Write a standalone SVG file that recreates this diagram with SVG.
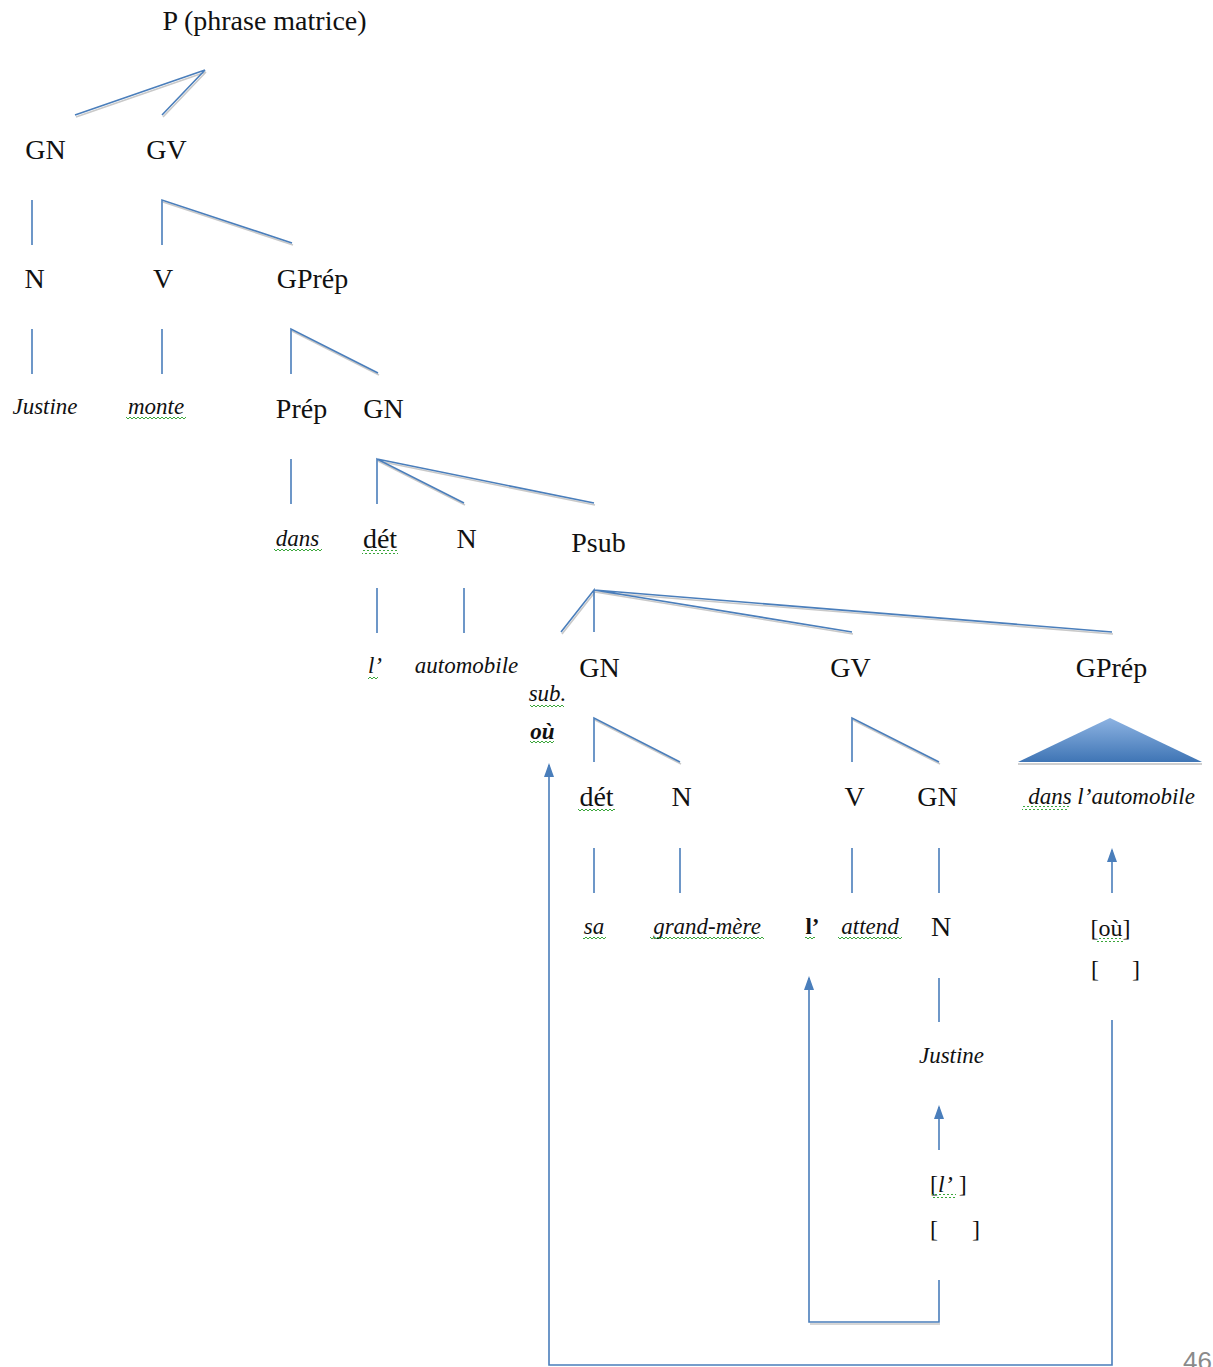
<svg xmlns="http://www.w3.org/2000/svg" width="1213" height="1367" viewBox="0 0 1213 1367">
<defs>
<style>
.t{font-family:"Liberation Serif","Times New Roman",serif;font-size:28px;fill:#111;text-anchor:middle}
.i{font-family:"Liberation Serif","Times New Roman",serif;font-size:23px;font-style:italic;fill:#111;text-anchor:middle}
.b{font-weight:bold}
.r{font-style:normal}
.l{stroke:#4a7ebb;stroke-width:1.6;fill:none}
.s{stroke:#c9c9c9;stroke-width:1.6;fill:none}
.sq{fill:url(#squig)}
.pg{font-family:"Liberation Sans",Arial,sans-serif;font-size:26px;fill:#8a8a8a}
</style>
<pattern id="squig" width="4" height="4" patternUnits="userSpaceOnUse">
<path d="M0,3 L2,1 L4,3" stroke="#3aa63a" stroke-width="1" fill="none"/>
</pattern>
<marker id="ah" markerWidth="14" markerHeight="10" refX="12" refY="5" orient="auto" markerUnits="userSpaceOnUse" viewBox="0 0 14 10">
<path d="M0,0 L14,5 L0,10 Z" fill="#4a7ebb"/>
</marker>
<linearGradient id="tri" x1="0" y1="0" x2="0" y2="1">
<stop offset="0" stop-color="#8db3e2"/>
<stop offset="1" stop-color="#3f75b5"/>
</linearGradient>
</defs>
<rect width="1213" height="1367" fill="#fff"/>

<g id="connectors">
<g transform="translate(1,2)">
<path class="s" d="M75,115 L205,70 M162,115 L205,70"/>
<path class="s" d="M162,200 L292,243"/>
<path class="s" d="M291,329 L378,373"/>
<path class="s" d="M377,459 L464,503 M377,459 L594,503"/>
<path class="s" d="M594,590 L561,632 M594,590 L852,632 M594,590 L1112,632"/>
<path class="s" d="M594,718 L680,762 M852,718 L939,762"/>
<path class="s" d="M809,1322 L939,1322"/>
</g>
<path class="l" d="M75,115 L205,70 M162,115 L205,70"/>
<path class="l" d="M32,200 V245 M162,245 V200 L292,243"/>
<path class="l" d="M32,329 V374 M162,329 V374 M291,374 V329 L378,373"/>
<path class="l" d="M291,459 V504 M377,504 V459 L464,503 M377,459 L594,503"/>
<path class="l" d="M377,588 V633 M464,588 V633"/>
<path class="l" d="M561,632 L594,590 V632 M594,590 L852,632 M594,590 L1112,632"/>
<path class="l" d="M594,762 V718 L680,762 M852,762 V718 L939,762"/>
<path class="l" d="M594,848 V893 M680,848 V893 M852,848 V893 M939,848 V893"/>
<path class="l" d="M939,978 V1022"/>
<path class="l" d="M1112,893 V850" marker-end="url(#ah)"/>
<path class="l" d="M939,1150 V1107" marker-end="url(#ah)"/>
<path class="l" d="M939,1280 V1322 H809 V978" marker-end="url(#ah)"/>
<path class="l" d="M1112,1020 V1365 H549 V765" marker-end="url(#ah)"/>
</g>

<g id="n-p"><text class="t" x="264.5" y="30">P (phrase matrice)</text></g>
<g id="n-gn1"><text class="t" x="45.5" y="159">GN</text></g>
<g id="n-gv1"><text class="t" x="166.5" y="159">GV</text></g>
<g id="n-n1"><text class="t" x="34.5" y="288">N</text></g>
<g id="n-v1"><text class="t" x="163" y="288">V</text></g>
<g id="n-gprep1"><text class="t" x="312.5" y="288">GPrép</text></g>
<g id="n-justine1"><text class="i" x="45" y="414">Justine</text></g>
<g id="n-monte"><text class="i" x="156" y="414">monte</text><rect class="sq" x="126" y="416" width="60" height="4"/></g>
<g id="n-prep"><text class="t" x="301.5" y="418">Prép</text></g>
<g id="n-gn2"><text class="t" x="383.5" y="418">GN</text></g>
<g id="n-dans"><text class="i" x="297.5" y="546">dans</text><rect class="sq" x="274" y="548" width="48" height="4"/></g>
<g id="n-det1"><text class="t" x="380" y="548">dét</text><rect class="sq" x="362" y="550" width="36" height="4"/></g>
<g id="n-n2"><text class="t" x="466.5" y="548">N</text></g>
<g id="n-psub"><text class="t" x="598.5" y="552">Psub</text></g>
<g id="n-l1"><text class="i" x="375" y="673">l’</text><rect class="sq" x="368" y="675" width="10" height="4"/></g>
<g id="n-automobile"><text class="i" x="466.5" y="673">automobile</text></g>
<g id="n-gn3"><text class="t" x="599.5" y="677">GN</text></g>
<g id="n-gv2"><text class="t" x="850.5" y="677">GV</text></g>
<g id="n-gprep2"><text class="t" x="1111.5" y="677">GPrép</text></g>
<g id="n-sub"><text class="i" x="547.5" y="701">sub.</text><rect class="sq" x="530" y="703" width="34" height="4"/></g>
<g id="n-ou"><text class="i b" x="542.5" y="739">où</text><rect class="sq" x="530" y="741" width="24" height="4"/></g>
<g id="n-det2"><text class="t" x="596.5" y="806">dét</text><rect class="sq" x="578" y="808" width="37" height="4"/></g>
<g id="n-n3"><text class="t" x="681.5" y="806">N</text></g>
<g id="n-v2"><text class="t" x="854.5" y="806">V</text></g>
<g id="n-gn4"><text class="t" x="937.5" y="806">GN</text></g>
<g id="n-triangle"><path d="M1018,762 L1110,718 L1202,762 Z" fill="url(#tri)"/><path d="M1018,764 H1202" stroke="#cfcfcf" stroke-width="2"/></g>
<g id="n-dansauto"><text class="i" x="1111.5" y="804">dans l’automobile</text><rect class="sq" x="1022" y="806" width="47" height="4"/></g>
<g id="n-sa"><text class="i" x="594" y="934">sa</text><rect class="sq" x="583" y="936" width="23" height="4"/></g>
<g id="n-grandmere"><text class="i" x="707" y="934">grand-mère</text><rect class="sq" x="650" y="936" width="114" height="4"/></g>
<g id="n-l2"><text class="i r b" x="812.5" y="934">l’</text><rect class="sq" x="805" y="936" width="10" height="4"/></g>
<g id="n-attend"><text class="i" x="870" y="934">attend</text><rect class="sq" x="838" y="936" width="64" height="4"/></g>
<g id="n-n4"><text class="t" x="941" y="936">N</text></g>
<g id="n-ou2"><text class="t" x="1110.5" y="936" style="font-size:24px">[où]</text><rect class="sq" x="1097" y="938" width="26" height="4"/></g>
<g id="n-empty1"><text class="t" x="1091" y="977" style="text-anchor:start;font-size:24px">[<tspan x="1132">]</tspan></text></g>
<g id="n-justine2"><text class="i" x="951.5" y="1063">Justine</text></g>
<g id="n-l3"><text class="t" x="930" y="1192" style="text-anchor:start;font-size:24px">[<tspan font-style="italic">l’</tspan> ]</text><rect class="sq" x="932" y="1194" width="24" height="4"/></g>
<g id="n-empty2"><text class="t" x="930" y="1237" style="text-anchor:start;font-size:24px">[<tspan x="972">]</tspan></text></g>
<g id="n-page"><text class="pg" x="1183" y="1370">46</text></g>
</svg>
